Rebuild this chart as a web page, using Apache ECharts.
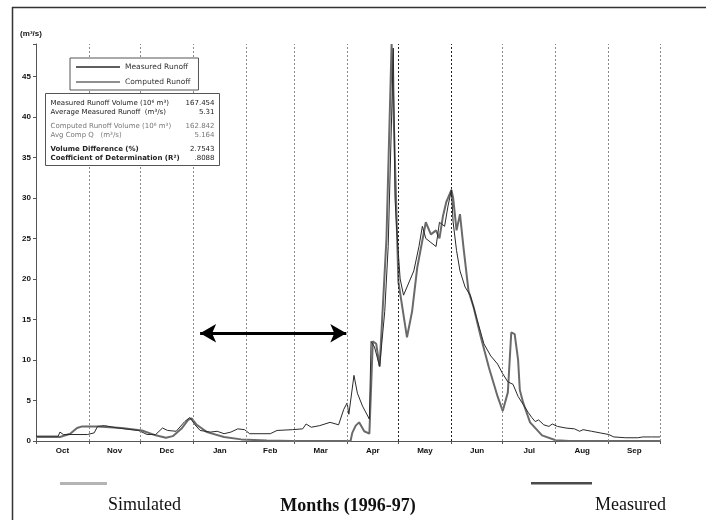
<!DOCTYPE html>
<html>
<head>
<meta charset="utf-8">
<script src="https://cdn.jsdelivr.net/npm/echarts@6/dist/echarts.min.js"></script>
<style>
  html, body { margin: 0; padding: 0; background: #fff; }
  #main { width: 706px; height: 520px; }
</style>
</head>
<body>
<div id="main"></div>
<script>
// months of the water year, day offsets counted from 1 Oct 1996
var months = ['Oct', 'Nov', 'Dec', 'Jan', 'Feb', 'Mar', 'Apr', 'May', 'Jun', 'Jul', 'Aug', 'Sep'];
var monthStart = [0, 31, 61, 92, 123, 151, 182, 212, 243, 273, 304, 335, 365];

// measured runoff (m3/s), [day, Q]
var measured = [
  [0, 0.6], [13, 0.6], [14, 1.1], [16, 0.8], [30, 0.8], [34, 1.0], [36, 1.8], [40, 1.9],
  [48, 1.6], [60, 1.3], [65, 0.8], [70, 0.8], [74, 1.6], [77, 1.3], [82, 1.2], [87, 2.4],
  [90, 2.9], [93, 2.0], [96, 1.3], [102, 1.1], [106, 1.2], [110, 0.9], [114, 1.1], [118, 1.5],
  [122, 1.4], [125, 0.9], [137, 0.9], [141, 1.3], [150, 1.4], [156, 1.5], [158, 2.1], [161, 1.7],
  [166, 1.9], [172, 2.3], [177, 2.0], [180, 3.9], [182, 4.7], [183, 3.3], [186, 8.1], [188, 5.9],
  [191, 4.3], [195, 2.7], [196, 12.3], [198, 11.6], [200, 10], [201, 9.2], [204, 16], [206, 24],
  [208, 40], [209, 48.5], [210, 30], [211, 26], [213, 20], [215, 18], [218, 19.5], [221, 21],
  [224, 24], [226, 26.5], [228, 25], [231, 24.5], [234, 24], [236, 27], [239, 26.5], [241, 29],
  [243, 31], [244, 27], [246, 23.5], [248, 21], [251, 19], [254, 18], [258, 15], [262, 12],
  [266, 10.5], [270, 9.5], [273, 8.3], [276, 7.3], [279, 7], [282, 5.5], [285, 4.5], [288, 3.5],
  [290, 2.9], [292, 2.4], [294, 2.6], [297, 2.0], [300, 1.8], [302, 2.1], [305, 1.8], [310, 1.6],
  [315, 1.5], [318, 1.2], [320, 1.4], [325, 1.2], [330, 1.0], [335, 0.8], [338, 0.5], [345, 0.4],
  [352, 0.4], [355, 0.5], [360, 0.5], [365, 0.5]
];

// computed (simulated) runoff (m3/s), [day, Q]
var computed = [
  [0, 0.5], [14, 0.5], [20, 0.9], [24, 1.6], [27, 1.8], [36, 1.8], [50, 1.6], [62, 1.3],
  [70, 0.7], [76, 0.4], [80, 0.6], [85, 1.5], [89, 2.6], [91, 2.8], [94, 2.0], [100, 1.1],
  [110, 0.5], [120, 0.2], [135, 0.05], [150, 0], [184, 0], [185, 1.0], [187, 1.9], [189, 2.3],
  [192, 1.2], [195, 0.9], [197, 12.3], [199, 12], [201, 9.2], [205, 25], [208, 49], [212, 19.6],
  [217, 12.8], [220, 16], [223, 21.4], [228, 27], [231, 25.5], [234, 26], [236, 25], [238, 27.7],
  [240, 29.5], [243, 31], [244, 30], [246, 26], [248, 28], [250, 24], [253, 18.5], [256, 16.5],
  [260, 13], [265, 9], [270, 5.5], [273, 3.7], [276, 6], [278, 13.4], [280, 13.2], [282, 10],
  [283, 6.3], [285, 4.7], [289, 2.3], [296, 0.7], [304, 0.1], [312, 0], [365, 0]
];

var yTicks = [0, 5, 10, 15, 20, 25, 30, 35, 40, 45];

var monthMid = [];
for (var i = 0; i < months.length; i++) {
  monthMid.push((monthStart[i] + monthStart[i + 1]) / 2);
}

// dashed month boundaries, May and Jun drawn darker
var boundaryLines = [];
for (var j = 1; j < monthStart.length; j++) {
  var dark = (monthStart[j] === 212 || monthStart[j] === 243);
  boundaryLines.push({
    xAxis: monthStart[j],
    lineStyle: { color: dark ? '#222' : '#8a8a8a', type: [2, 2], width: 1 }
  });
}

var chart = echarts.init(document.getElementById('main'));
var lbl = { fontFamily: 'Liberation Sans', fontWeight: 'bold', fontSize: 8, color: '#111' };

var option = {
  animation: false,
  backgroundColor: '#fff',
  grid: { left: 36, right: 46, top: 44, bottom: 71 },
  legend: {
    orient: 'vertical',
    left: 70,
    top: 58,
    z: 20,
    icon: 'rect',
    itemWidth: 44,
    itemHeight: 1.5,
    itemGap: 7,
    padding: [5, 8, 4, 6],
    backgroundColor: '#fff',
    borderColor: '#555',
    borderWidth: 1,
    borderRadius: 0,
    textStyle: { fontFamily: 'DejaVu Sans', fontSize: 7.5, color: '#333' },
    data: ['Measured Runoff', 'Computed Runoff']
  },
  xAxis: {
    type: 'value',
    min: 0,
    max: 365,
    name: 'Months (1996-97)',
    nameLocation: 'middle',
    nameGap: 56,
    nameTextStyle: { fontFamily: 'Liberation Serif', fontWeight: 'bold', fontSize: 18, color: '#111' },
    axisLine: { lineStyle: { color: '#555', width: 1 } },
    axisTick: { show: true, customValues: monthStart, length: 3, lineStyle: { color: '#555' } },
    axisLabel: {
      customValues: monthMid,
      margin: 6,
      fontFamily: lbl.fontFamily, fontWeight: lbl.fontWeight, fontSize: lbl.fontSize, color: lbl.color,
      formatter: function (v) {
        var k = monthMid.indexOf(v);
        return k >= 0 ? months[k] : '';
      }
    },
    splitLine: { show: false }
  },
  yAxis: {
    type: 'value',
    min: 0,
    max: 49,
    interval: 5,
    name: '(m\u00b3/s)',
    nameLocation: 'end',
    nameGap: 6,
    nameTextStyle: { fontFamily: 'Liberation Sans', fontWeight: 'bold', fontSize: 8, color: '#111', align: 'center', padding: [0, 10, 0, 0] },
    axisLine: { show: true, lineStyle: { color: '#555', width: 1 } },
    axisTick: { show: true, length: 3, lineStyle: { color: '#555' } },
    axisLabel: {
      margin: 5,
      fontFamily: lbl.fontFamily, fontWeight: lbl.fontWeight, fontSize: lbl.fontSize, color: lbl.color,
      formatter: function (v) { return yTicks.indexOf(v) >= 0 ? String(v) : ''; }
    },
    splitLine: { show: false }
  },
  series: [
    {
      name: 'Measured Runoff',
      type: 'line',
      data: measured,
      showSymbol: false,
      symbol: 'none',
      lineStyle: { color: '#2a2a2a', width: 1 },
      itemStyle: { color: '#2a2a2a' },
      z: 3,
      markLine: {
        silent: true,
        symbol: 'none',
        label: { show: false },
        data: boundaryLines
      }
    },
    {
      name: 'Computed Runoff',
      type: 'line',
      data: computed,
      showSymbol: false,
      symbol: 'none',
      lineStyle: { color: '#6a6a6a', width: 2 },
      itemStyle: { color: '#6a6a6a' },
      z: 2,
      markLine: {
        silent: true,
        symbol: ['arrow', 'arrow'],
        symbolSize: [14, 16],
        label: { show: false },
        lineStyle: { color: '#000', width: 3, type: 'solid' },
        data: [[{ coord: [96, 13.3] }, { coord: [181.5, 13.3] }]]
      }
    }
  ],
  graphic: [
    // page frame (top and left edge)
    { type: 'line', shape: { x1: 12, y1: 7.5, x2: 706, y2: 7.5 }, style: { stroke: '#333', lineWidth: 1.5 }, silent: true },
    { type: 'line', shape: { x1: 12.5, y1: 7, x2: 12.5, y2: 520 }, style: { stroke: '#333', lineWidth: 1.5 }, silent: true },
    // statistics box
    {
      type: 'group', left: 45, top: 93, silent: true, z: 100,
      children: [
        { type: 'rect', z: 100, shape: { x: 0, y: 0, width: 174, height: 72 }, style: { fill: '#fff', stroke: '#555', lineWidth: 1 } },
        { type: 'text', z: 101, x: 5, y: 6, style: { text: 'Measured Runoff Volume (10\u2076 m\u00b3)', font: '7px DejaVu Sans', fill: '#222' } },
        { type: 'text', z: 101, x: 169, y: 6, style: { text: '167.454', font: '7px DejaVu Sans', fill: '#222', align: 'right' } },
        { type: 'text', z: 101, x: 5, y: 15, style: { text: 'Average Measured Runoff  (m\u00b3/s)', font: '7px DejaVu Sans', fill: '#222' } },
        { type: 'text', z: 101, x: 169, y: 15, style: { text: '5.31', font: '7px DejaVu Sans', fill: '#222', align: 'right' } },
        { type: 'text', z: 101, x: 5, y: 29, style: { text: 'Computed Runoff Volume (10\u2076 m\u00b3)', font: '7px DejaVu Sans', fill: '#777' } },
        { type: 'text', z: 101, x: 169, y: 29, style: { text: '162.842', font: '7px DejaVu Sans', fill: '#777', align: 'right' } },
        { type: 'text', z: 101, x: 5, y: 38, style: { text: 'Avg Comp Q   (m\u00b3/s)', font: '7px DejaVu Sans', fill: '#777' } },
        { type: 'text', z: 101, x: 169, y: 38, style: { text: '5.164', font: '7px DejaVu Sans', fill: '#777', align: 'right' } },
        { type: 'text', z: 101, x: 5, y: 52, style: { text: 'Volume Difference (%)', font: 'bold 7px DejaVu Sans', fill: '#222' } },
        { type: 'text', z: 101, x: 169, y: 52, style: { text: '2.7543', font: '7px DejaVu Sans', fill: '#222', align: 'right' } },
        { type: 'text', z: 101, x: 5, y: 61, style: { text: 'Coefficient of Determination (R\u00b2)', font: 'bold 7px DejaVu Sans', fill: '#222' } },
        { type: 'text', z: 101, x: 169, y: 61, style: { text: '.8088', font: '7px DejaVu Sans', fill: '#222', align: 'right' } }
      ]
    },
    // bottom key
    { type: 'rect', shape: { x: 60, y: 482, width: 47, height: 3 }, style: { fill: '#b4b4b4' }, silent: true },
    { type: 'text', x: 108, y: 496, style: { text: 'Simulated', font: '18px Liberation Serif', fill: '#111' }, silent: true },
    { type: 'rect', shape: { x: 531, y: 482, width: 61, height: 2.5 }, style: { fill: '#4a4a4a' }, silent: true },
    { type: 'text', x: 595, y: 496, style: { text: 'Measured', font: '18px Liberation Serif', fill: '#111' }, silent: true }
  ]
};

chart.setOption(option);
</script>
</body>
</html>
